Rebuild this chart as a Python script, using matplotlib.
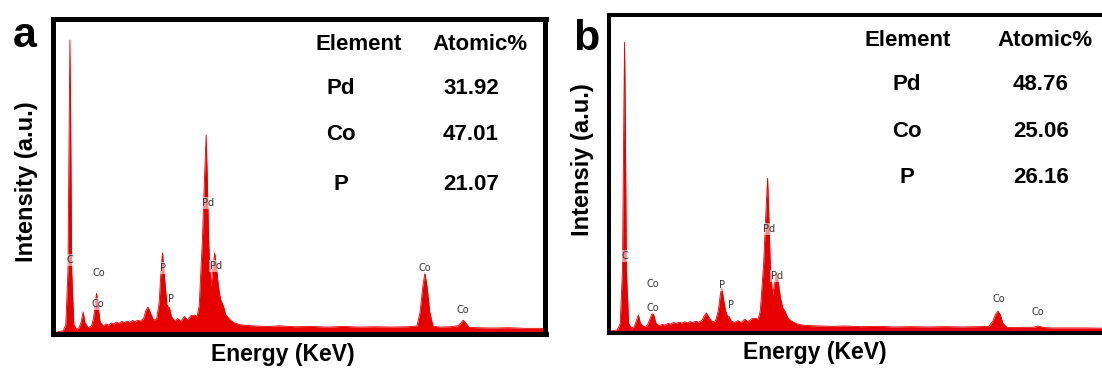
"""EDS spectra of the two Pd-Co-P samples (panels a and b) -> out.png"""

import matplotlib
matplotlib.use("Agg")
import matplotlib.pyplot as plt

W, H = 1102, 371
RED = "#e60000"

# table data
elements = ["Pd", "Co", "P"]
atomic_a = ["31.92", "47.01", "21.07"]
atomic_b = ["48.76", "25.06", "26.16"]

# spectrum a: energy (keV), intensity (a.u., % of frame)
energy_a = [0.0, 0.15, 0.2, 0.24, 0.265, 0.277, 0.29, 0.31, 0.35, 0.40, 0.45, 0.49,
            0.525, 0.56, 0.62, 0.68, 0.72, 0.76, 0.776, 0.80, 0.84, 0.90, 0.95,
            1.0, 1.05, 1.1, 1.15, 1.2, 1.25, 1.3, 1.35, 1.4, 1.45, 1.5, 1.55, 1.6,
            1.66, 1.70, 1.74, 1.78, 1.84, 1.90, 1.95, 1.99, 2.013, 2.04, 2.08, 2.12,
            2.14, 2.18, 2.24, 2.3, 2.36, 2.42, 2.48, 2.55, 2.62, 2.66, 2.70, 2.76,
            2.80, 2.83, 2.85, 2.88, 2.92, 2.95, 2.99, 3.02, 3.06, 3.10, 3.15, 3.20,
            3.28, 3.35, 3.45, 3.6, 3.8, 4.0, 4.2, 4.5, 4.8, 5.1, 5.4, 5.7, 6.0,
            6.3, 6.6, 6.78, 6.84, 6.89, 6.93, 6.97, 7.02, 7.08, 7.2, 7.4, 7.55,
            7.60, 7.649, 7.70, 7.76, 7.9, 8.2, 8.5, 8.8, 9.2]
inten_a = [0.5, 1.0, 3.0, 20, 70, 93.3, 70, 20, 3.0, 1.5, 2.0, 4.0,
           7.0, 3.5, 2.0, 2.5, 5.0, 11.0, 12.9, 10.0, 4.0, 2.5, 3.2,
           2.8, 3.5, 3.2, 3.8, 3.4, 4.0, 3.6, 4.1, 3.7, 4.3, 3.9, 4.4, 4.1,
           5.0, 7.5, 8.6, 7.0, 4.5, 4.6, 10.0, 22.0, 25.7, 20.0, 12.0, 8.0,
           8.5, 5.5, 4.2, 4.9, 4.0, 5.6, 4.5, 5.9, 6.0, 5.5, 9.0, 30.0,
           50.0, 63.2, 50.0, 28.0, 15.0, 20.0, 25.7, 22.0, 15.0, 11.0, 9.0, 6.0,
           4.5, 3.6, 3.0, 2.7, 2.5, 2.4, 2.6, 2.3, 2.4, 2.2, 2.4, 2.2, 2.3,
           2.2, 2.3, 2.5, 7.0, 15.0, 19.4, 15.0, 7.0, 2.5, 2.2, 2.3, 2.6,
           3.4, 4.4, 3.4, 2.1, 2.0, 1.9, 2.0, 1.8, 1.8]

# spectrum b
energy_b = [0.0, 0.15, 0.2, 0.24, 0.265, 0.277, 0.29, 0.31, 0.35, 0.40, 0.45, 0.49,
            0.525, 0.56, 0.62, 0.68, 0.72, 0.76, 0.776, 0.80, 0.84, 0.90, 0.95,
            1.0, 1.05, 1.1, 1.15, 1.2, 1.25, 1.3, 1.35, 1.4, 1.45, 1.5, 1.55, 1.6,
            1.66, 1.70, 1.74, 1.78, 1.84, 1.90, 1.95, 1.99, 2.013, 2.04, 2.08, 2.12,
            2.14, 2.18, 2.24, 2.3, 2.36, 2.42, 2.48, 2.55, 2.62, 2.66, 2.70, 2.76,
            2.80, 2.83, 2.85, 2.88, 2.92, 2.95, 2.99, 3.02, 3.06, 3.10, 3.15, 3.20,
            3.28, 3.35, 3.45, 3.6, 3.8, 4.0, 4.2, 4.5, 4.8, 5.1, 5.4, 5.7, 6.0,
            6.3, 6.6, 6.78, 6.85, 6.90, 6.94, 6.98, 7.03, 7.10, 7.2, 7.4, 7.55,
            7.60, 7.66, 7.72, 7.78, 7.9, 8.2, 8.5, 8.8, 9.2]
inten_b = [0.5, 1.0, 3.0, 20, 70, 91.5, 70, 20, 3.0, 1.5, 2.0, 4.0,
           5.7, 3.0, 2.0, 2.3, 4.0, 5.8, 6.3, 5.5, 3.0, 2.3, 2.7,
           2.5, 3.0, 2.8, 3.3, 3.0, 3.4, 3.1, 3.5, 3.2, 3.6, 3.3, 3.7, 3.4,
           4.0, 5.5, 6.3, 5.0, 3.5, 3.8, 7.0, 12.5, 14.2, 11.0, 7.0, 5.0,
           5.2, 3.8, 3.3, 3.9, 3.3, 4.3, 3.6, 4.5, 4.6, 4.3, 7.0, 22.0,
           38.0, 48.7, 38.0, 20.0, 12.0, 15.0, 18.9, 16.0, 11.0, 8.0, 6.5, 4.5,
           3.5, 2.9, 2.5, 2.3, 2.2, 2.1, 2.2, 2.0, 2.1, 1.9, 2.0, 1.9, 2.0,
           1.9, 2.0, 2.1, 3.8, 6.0, 6.9, 5.8, 3.0, 1.8, 1.7, 1.8, 1.8,
           1.9, 2.2, 1.9, 1.7, 1.6, 1.6, 1.6, 1.5, 1.5]

# peak labels: (text, energy, height)
labels_a = [("C", 0.277, 23.5), ("Co", 0.82, 19.4), ("Co", 0.80, 9.5),
            ("P", 2.02, 21.0), ("P", 2.17, 11.1), ("Pd", 2.86, 41.6),
            ("Pd", 3.01, 21.6), ("Co", 6.93, 21.0), ("Co", 7.64, 7.6)]
labels_b = [("C", 0.277, 24.2), ("Co", 0.79, 15.4), ("Co", 0.79, 7.9),
            ("P", 2.02, 15.1), ("P", 2.17, 8.8), ("Pd", 2.86, 32.7),
            ("Pd", 3.00, 17.9), ("Co", 6.95, 10.7), ("Co", 7.66, 6.6)]


def px(x, y):
    return x / W, 1 - y / H


def panel(fig, rect, energy, inten, labels, xlim, frame_lw):
    l, t, r, b = rect
    ax = fig.add_axes([l / W, 1 - b / H, (r - l) / W, (b - t) / H])
    ax.fill_between(energy, inten, 0, color=RED, lw=0)
    ax.plot(energy, inten, color=RED, lw=0.6)
    for txt, e, h in labels:
        ax.text(e, h, txt, fontsize=7, color="#333333", ha="center", va="center",
                family="DejaVu Sans",
                bbox=dict(boxstyle="square,pad=0.08", fc="white", ec="none", alpha=0.55))
    ax.set_xlim(*xlim)
    ax.set_ylim(0, 100)
    ax.set_xticks([])
    ax.set_yticks([])
    for s in ax.spines.values():
        s.set_linewidth(frame_lw)
        s.set_color("black")
    return ax


def table(fig, xs, ys, values):
    kw = dict(fontsize=16, fontweight="bold", family="Liberation Sans",
              ha="center", va="center")
    fig.text(*px(xs[0], ys[0]), "Element", **kw)
    fig.text(*px(xs[1], ys[0]), "Atomic%", **kw)
    for i, (el, v) in enumerate(zip(elements, values)):
        fig.text(*px(xs[2], ys[i + 1]), el, **kw)
        fig.text(*px(xs[3], ys[i + 1]), v, **kw)


def main() -> None:
    fig = plt.figure(figsize=(W / 100, H / 100), dpi=100, facecolor="white")

    panel(fig, (53, 19, 545.5, 334), energy_a, inten_a, labels_a, (-0.04, 9.19), 3.6)
    panel(fig, (609, 15, 1124, 333), energy_b, inten_b, labels_b, (0.0, 9.19), 2.9)

    table(fig, (359, 480, 341, 471), (45, 88, 135, 184), atomic_a)
    table(fig, (908, 1045, 907, 1041), (41, 84, 131, 178), atomic_b)

    big = dict(fontsize=31, fontweight="bold", family="Liberation Sans", ha="center", va="baseline")
    fig.text(*px(25, 47), "a", **big)
    fig.text(*px(586, 50), "b", **big)

    lab = dict(fontweight="bold", family="Liberation Sans", ha="center", va="center")
    fig.text(*px(26, 182), "Intensity (a.u.)", rotation=90, fontsize=17, **lab)
    fig.text(*px(582, 160), "Intensiy (a.u.)", rotation=90, fontsize=17, **lab)
    fig.text(*px(283, 355), "Energy (KeV)", fontsize=16.5, **lab)
    fig.text(*px(815, 352), "Energy (KeV)", fontsize=16.5, **lab)

    fig.savefig("out.png", dpi=100, facecolor="white")
    plt.close(fig)


if __name__ == "__main__":
    main()
